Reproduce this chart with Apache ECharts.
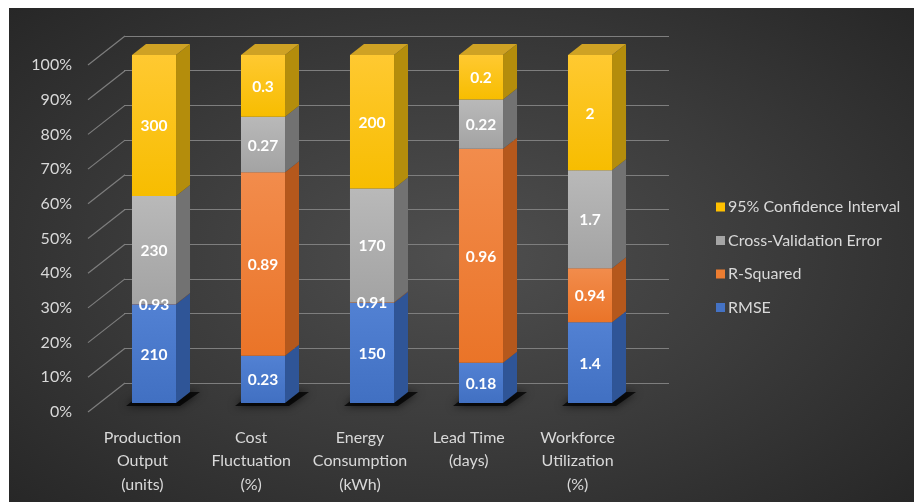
<!DOCTYPE html>
<html>
<head>
<meta charset="utf-8">
<script src="https://cdn.jsdelivr.net/npm/echarts@6/dist/echarts.min.js"></script>
<style>
  html, body { margin: 0; padding: 0; background: #ffffff; }
  #chart {
    width: 914px; height: 502px;
    background: radial-gradient(ellipse 70% 75% at 50% 50%, #4f4f4f 0%, #3b3b3b 50%, #262626 100%) no-repeat 9px 8px / 905px 494px, #ffffff;
  }
</style>
</head>
<body>
<div id="chart"></div>
<script>
// ---- Data ----
const categories = [
  'Production\nOutput\n(units)',
  'Cost\nFluctuation\n(%)',
  'Energy\nConsumption\n(kWh)',
  'Lead Time\n(days)',
  'Workforce\nUtilization\n(%)'
];
const rmse = [210, 0.23, 150, 0.18, 1.4];
const rSquared = [0.93, 0.89, 0.91, 0.96, 0.94];
const cvError = [230, 0.27, 170, 0.22, 1.7];
const ci95 = [300, 0.3, 200, 0.2, 2];
const yTicks = [0, 10, 20, 30, 40, 50, 60, 70, 80, 90, 100];

// ---- Styles ----
const seriesDefs = [
  { name: 'RMSE', values: rmse, base: '#4472C4', front: ['#5281D3', '#4170C2'], side: '#2F5597', top: '#3A64B0', shadow: true },
  { name: 'R-Squared', values: rSquared, front: ['#F28C4C', '#EA7428'], base: '#ED7D31', side: '#B5581C', top: '#C96A2C' },
  { name: 'Cross-Validation Error', values: cvError, front: ['#B9B9B9', '#A3A3A3'], base: '#A5A5A5', side: '#727272', top: '#8C8C8C' },
  { name: '95% Confidence Interval', values: ci95, front: ['#FFC931', '#F7BD00'], base: '#FFC000', side: '#B48D0C', top: '#CFA224', isTop: true }
];

// percentage stacking (100% stacked)
const totals = categories.map((_, i) => seriesDefs.reduce((s, d) => s + d.values[i], 0));
const starts = categories.map(() => 0);
seriesDefs.forEach(d => {
  d.data = d.values.map((v, i) => {
    const s = starts[i];
    const e = s + v / totals[i] * 100;
    starts[i] = e;
    return [i, s, e, v];
  });
});

const DX = 14, DY = -11;

function makeRender(def) {
  return function (params, api) {
    const idx = api.value(0);
    const p0 = api.coord([idx, api.value(1)]);
    const p1 = api.coord([idx, api.value(2)]);
    const w = api.size([1, 0])[0] * 0.404;
    const xl = p0[0] - w / 2, xr = p0[0] + w / 2;
    const y0 = p0[1], y1 = p1[1];
    const children = [];
    if (def.shadow) {
      children.push({
        type: 'polygon', z2: -5,
        shape: { points: [[xl - 6, y0 + 3], [xr + 4, y0 + 3], [xr + DX + 10, y0 + DY], [xl + DX - 2, y0 + DY]] },
        style: { fill: 'rgba(0,0,0,0.75)', shadowBlur: 8, shadowColor: 'rgba(0,0,0,0.9)' }
      });
    }
    children.push({
      type: 'rect',
      shape: { x: xl, y: y1, width: w, height: y0 - y1 },
      style: { fill: new echarts.graphic.LinearGradient(0, 0, 0, 1, [
        { offset: 0, color: def.front[0] }, { offset: 1, color: def.front[1] }]) }
    });
    children.push({
      type: 'polygon',
      shape: { points: [[xr, y1], [xr + DX, y1 + DY], [xr + DX, y0 + DY], [xr, y0]] },
      style: { fill: def.side }
    });
    if (def.isTop) {
      children.push({
        type: 'polygon',
        shape: { points: [[xl, y1], [xl + DX, y1 + DY], [xr + DX, y1 + DY], [xr, y1]] },
        style: { fill: def.top }
      });
    }
    children.push({
      type: 'text', z2: 100,
      x: p0[0], y: (y0 + y1) / 2 + 1,
      style: {
        text: String(api.value(3)), fill: '#ffffff',
        fontSize: 15.5, fontWeight: 'bold', fontFamily: 'Lato',
        align: 'center', verticalAlign: 'middle'
      }
    });
    return { type: 'group', children: children };
  };
}

const chart = echarts.init(document.getElementById('chart'), null, { renderer: 'canvas' });

const series = [
  {
    type: 'custom', name: 'diag', xAxisIndex: 1, yAxisIndex: 1, z: 1,
    data: yTicks.map(v => [0, v]), silent: true,
    renderItem: function (params, api) {
      const p = api.coord([0, api.value(1)]);
      const x = params.coordSys.x;
      return { type: 'line', shape: { x1: x, y1: p[1], x2: x + 37, y2: p[1] - 29 },
        style: { stroke: '#7e7e7e', lineWidth: 1.2 } };
    }
  }
].concat(seriesDefs.map(d => ({
  type: 'custom', name: d.name, xAxisIndex: 2, yAxisIndex: 2,
  itemStyle: { color: d.base },
  data: d.data,
  renderItem: makeRender(d)
})));

chart.setOption({
  animation: false,
  textStyle: { fontFamily: 'Lato' },
  grid: [
    { left: 124, width: 545, top: 36, height: 347 },   // back wall
    { left: 88, width: 544, top: 65, height: 347 },    // front axis
    { left: 99.5, width: 545, top: 55, height: 348 }   // bars
  ],
  xAxis: [
    { gridIndex: 0, type: 'value', min: 0, max: 1, show: false },
    { gridIndex: 1, type: 'category', data: categories,
      axisLine: { show: false }, axisTick: { show: false }, splitLine: { show: false },
      axisLabel: { interval: 0, color: '#d9d9d9', fontSize: 16, lineHeight: 23.5, margin: 14, fontFamily: 'Lato' } },
    { gridIndex: 2, type: 'category', data: categories, show: false }
  ],
  yAxis: [
    { gridIndex: 0, type: 'value', min: 0, max: 100, interval: 10,
      axisLabel: { show: false }, axisLine: { show: false }, axisTick: { show: false },
      splitLine: { show: true, lineStyle: { color: '#7e7e7e', width: 1.2 } } },
    { gridIndex: 1, type: 'value', min: 0, max: 100, interval: 10,
      axisLine: { show: false }, axisTick: { show: false }, splitLine: { show: false },
      axisLabel: { formatter: '{value}%', color: '#d9d9d9', fontSize: 16, margin: 16, fontFamily: 'Lato' } },
    { gridIndex: 2, type: 'value', min: 0, max: 100, show: false }
  ],
  legend: {
    orient: 'vertical', left: 711, top: 194,
    data: ['95% Confidence Interval', 'Cross-Validation Error', 'R-Squared', 'RMSE'],
    icon: 'rect', itemWidth: 9, itemHeight: 9, itemGap: 17.5,
    textStyle: { color: '#d9d9d9', fontSize: 16, fontFamily: 'Lato', padding: [0, 0, 0, -2] }
  },
  series: series
});
</script>
</body>
</html>
